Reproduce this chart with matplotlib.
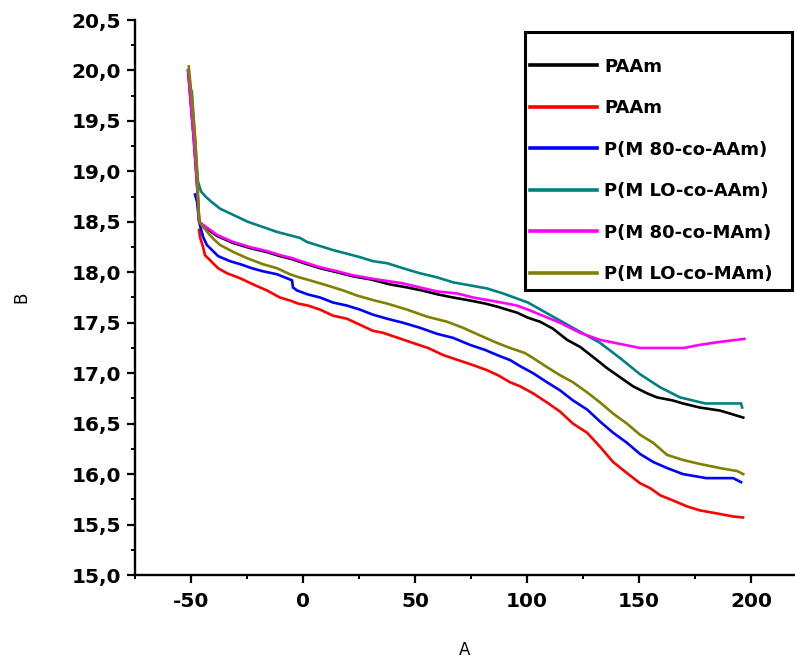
import matplotlib
matplotlib.use("Agg")
import matplotlib.pyplot as plt
from matplotlib.ticker import MultipleLocator, FuncFormatter
from matplotlib.patches import Rectangle

labels = ["PAAm", "PAAm", "P(M 80-co-AAm)", "P(M LO-co-AAm)", "P(M 80-co-MAm)", "P(M LO-co-MAm)"]
colors = ["#000000", "#ff0000", "#0000ff", "#008080", "#ff00ff", "#808000"]

# PAAm (black)
x_black = [-51.3, -50.0, -48.7, -47.4, -46.3, -44.6, -38.4, -31.2, -23.7, -16.1, -10.3, -4.9, 1.8, 7.6,
           15.2, 22.3, 30.0, 38.8, 46.4, 53.0, 60.3, 67.0, 74.6, 81.3, 86.6, 91.0, 95.5, 100.4, 105.8,
           111.6, 117.9, 123.7, 129.5, 135.7, 141.5, 147.3, 153.6, 158.0, 165.0, 169.6, 177.0, 186.0,
           190.6, 196.5]
y_black = [20.0, 19.65, 19.3, 18.9, 18.5, 18.46, 18.36, 18.29, 18.24, 18.2, 18.16, 18.13, 18.08, 18.04,
           18.0, 17.96, 17.93, 17.88, 17.85, 17.82, 17.78, 17.75, 17.72, 17.69, 17.66, 17.63, 17.6, 17.55,
           17.51, 17.44, 17.33, 17.26, 17.16, 17.05, 16.96, 16.87, 16.8, 16.76, 16.73, 16.7, 16.66, 16.63,
           16.6, 16.56]

# PAAm (red)
x_red = [-46.4, -46.0, -44.6, -43.8, -41.5, -40.2, -37.9, -33.9, -28.0, -22.3, -16.1, -10.3, -5.8, -2.2,
         2.2, 7.6, 13.4, 19.6, 25.4, 31.2, 35.7, 42.4, 49.0, 55.8, 62.5, 69.2, 75.9, 82.1, 87.0, 92.4,
         96.9, 102.7, 108.9, 114.7, 120.5, 126.8, 132.6, 138.4, 144.6, 150.4, 155.0, 159.4, 165.0, 171.4,
         177.2, 184.8, 192.0, 196.4]
y_red = [18.42, 18.35, 18.25, 18.17, 18.12, 18.09, 18.04, 17.99, 17.94, 17.88, 17.82, 17.75, 17.72, 17.69,
         17.67, 17.63, 17.57, 17.54, 17.48, 17.42, 17.4, 17.35, 17.3, 17.25, 17.18, 17.13, 17.08, 17.03,
         16.98, 16.91, 16.87, 16.8, 16.71, 16.62, 16.5, 16.41, 16.27, 16.12, 16.01, 15.91, 15.86, 15.79,
         15.74, 15.68, 15.64, 15.61, 15.58, 15.57]

# P(M 80-co-AAm) (blue)
x_blue = [-48.2, -47.3, -46.4, -44.6, -42.9, -40.6, -37.9, -32.6, -28.0, -22.8, -17.9, -11.6, -7.1, -4.9,
          -4.5, -2.7, 2.2, 7.6, 13.4, 19.6, 25.4, 31.2, 37.5, 44.6, 52.2, 59.8, 67.0, 74.6, 81.3, 86.6,
          92.4, 96.9, 102.7, 108.9, 114.7, 120.5, 126.8, 132.6, 138.4, 144.6, 150.4, 156.3, 162.5, 169.6,
          180.0, 192.0, 195.5]
y_blue = [18.77, 18.7, 18.5, 18.35, 18.27, 18.22, 18.16, 18.11, 18.08, 18.04, 18.01, 17.98, 17.94, 17.92,
          17.85, 17.82, 17.78, 17.75, 17.7, 17.67, 17.63, 17.58, 17.54, 17.5, 17.45, 17.39, 17.35, 17.28,
          17.23, 17.18, 17.13, 17.07, 17.0, 16.91, 16.83, 16.73, 16.64, 16.52, 16.41, 16.31, 16.2, 16.12,
          16.06, 16.0, 15.96, 15.96, 15.92]

# P(M LO-co-AAm) (teal)
x_teal = [-49.6, -48.2, -46.9, -45.5, -43.5, -41.0, -37.0, -24.6, -11.6, -1.3, 1.8, 13.4, 25.4, 31.2,
          37.5, 44.6, 52.2, 59.8, 67.0, 74.6, 82.1, 89.3, 95.5, 100.4, 111.6, 123.7, 132.6, 141.5, 150.4,
          159.4, 168.3, 179.5, 195.5, 196.0]
y_teal = [19.79, 19.3, 18.9, 18.8, 18.75, 18.7, 18.63, 18.5, 18.4, 18.34, 18.3, 18.22, 18.15, 18.11,
          18.09, 18.04, 17.99, 17.95, 17.9, 17.87, 17.84, 17.79, 17.74, 17.7, 17.56, 17.41, 17.3, 17.15,
          16.99, 16.86, 16.76, 16.7, 16.7, 16.66]

# P(M 80-co-MAm) (magenta)
x_mag = [-51.3, -50.0, -48.7, -47.4, -46.3, -44.6, -38.4, -31.2, -23.7, -16.1, -10.3, -4.9, 1.8, 7.6,
         15.2, 22.3, 30.0, 35.7, 44.6, 52.2, 59.8, 68.8, 75.9, 83.5, 91.0, 95.5, 100.4, 114.7, 123.7,
         132.6, 150.4, 170.0, 177.0, 186.0, 197.0]
y_mag = [20.0, 19.65, 19.3, 18.9, 18.5, 18.47, 18.37, 18.3, 18.25, 18.21, 18.17, 18.14, 18.09, 18.05,
         18.01, 17.97, 17.94, 17.92, 17.89, 17.85, 17.81, 17.79, 17.75, 17.72, 17.69, 17.67, 17.63, 17.5,
         17.4, 17.33, 17.25, 17.25, 17.28, 17.31, 17.34]

# P(M LO-co-MAm) (olive)
x_olive = [-51.0, -49.5, -48.0, -47.0, -46.4, -44.6, -42.0, -39.5, -37.0, -31.0, -25.0, -17.9, -11.6, -5.8,
           -1.8, 3.1, 10.7, 17.9, 24.0, 32.0, 37.5, 46.4, 55.4, 64.3, 71.4, 80.4, 86.6, 92.4, 99.0, 102.7,
           108.9, 114.7, 120.5, 126.8, 132.6, 138.4, 144.6, 150.4, 156.3, 162.5, 169.6, 177.2, 186.0,
           193.8, 196.5]
y_olive = [20.04, 19.7, 19.3, 18.85, 18.5, 18.45, 18.38, 18.32, 18.27, 18.2, 18.14, 18.08, 18.04, 17.98,
           17.95, 17.92, 17.87, 17.82, 17.77, 17.72, 17.69, 17.63, 17.56, 17.51, 17.45, 17.36, 17.3, 17.25,
           17.2, 17.15, 17.06, 16.98, 16.91, 16.81, 16.71, 16.6, 16.5, 16.39, 16.31, 16.19, 16.14, 16.1,
           16.06, 16.03, 16.0]

series_x = [x_black, x_red, x_blue, x_teal, x_mag, x_olive]
series_y = [y_black, y_red, y_blue, y_teal, y_mag, y_olive]

x_ticks = [-50, 0, 50, 100, 150, 200]
y_ticks = [15.0, 15.5, 16.0, 16.5, 17.0, 17.5, 18.0, 18.5, 19.0, 19.5, 20.0, 20.5]

FONT = "DejaVu Sans"
fig = plt.figure(figsize=(7.95, 6.67), dpi=100)
ax = fig.add_axes([135/795, 1-575/667, 660/795, 555/667])

for xs, ys, c, lab in zip(series_x, series_y, colors, labels):
    ax.plot(xs, ys, color=c, lw=1.9, label=lab, solid_joinstyle="miter")

ax.set_xlim(-75, 219.6)
ax.set_ylim(15.0, 20.5)
ax.spines["top"].set_visible(False)
ax.spines["right"].set_visible(False)
for s in ["left", "bottom"]:
    ax.spines[s].set_linewidth(1.7)

ax.set_xticks(x_ticks)
ax.set_yticks(y_ticks)
ax.xaxis.set_minor_locator(MultipleLocator(25))
ax.yaxis.set_minor_locator(MultipleLocator(0.25))
ax.yaxis.set_major_formatter(FuncFormatter(lambda v, p: f"{v:.1f}".replace(".", ",")))
ax.xaxis.set_major_formatter(FuncFormatter(lambda v, p: f"{v:.0f}"))
ax.tick_params(which="major", direction="out", length=6, width=1.6, labelsize=14.5, pad=4)
ax.tick_params(which="minor", direction="out", length=3, width=1.4)
ax.tick_params(axis="x", which="major", pad=6)
for t in ax.get_xticklabels() + ax.get_yticklabels():
    t.set_fontfamily(FONT)
    t.set_fontweight("bold")

ax.set_xlabel("A", fontsize=12, family=FONT, labelpad=22)
ax.set_ylabel("B", fontsize=12, family=FONT, labelpad=30)

# legend frame
ax.add_patch(Rectangle((0.591, 0.5135), 0.405, 0.465, transform=ax.transAxes, fill=False,
                       lw=2.2, edgecolor="black", clip_on=False, zorder=5))
leg = ax.legend(loc="upper left", bbox_to_anchor=(0.580, 0.955), frameon=False,
                handlelength=3.7, handletextpad=0.4, labelspacing=1.3, borderpad=0.2,
                prop={"family": FONT, "weight": "bold", "size": 13})
for line in leg.get_lines():
    line.set_linewidth(2.6)

fig.savefig("out.png", dpi=100)
